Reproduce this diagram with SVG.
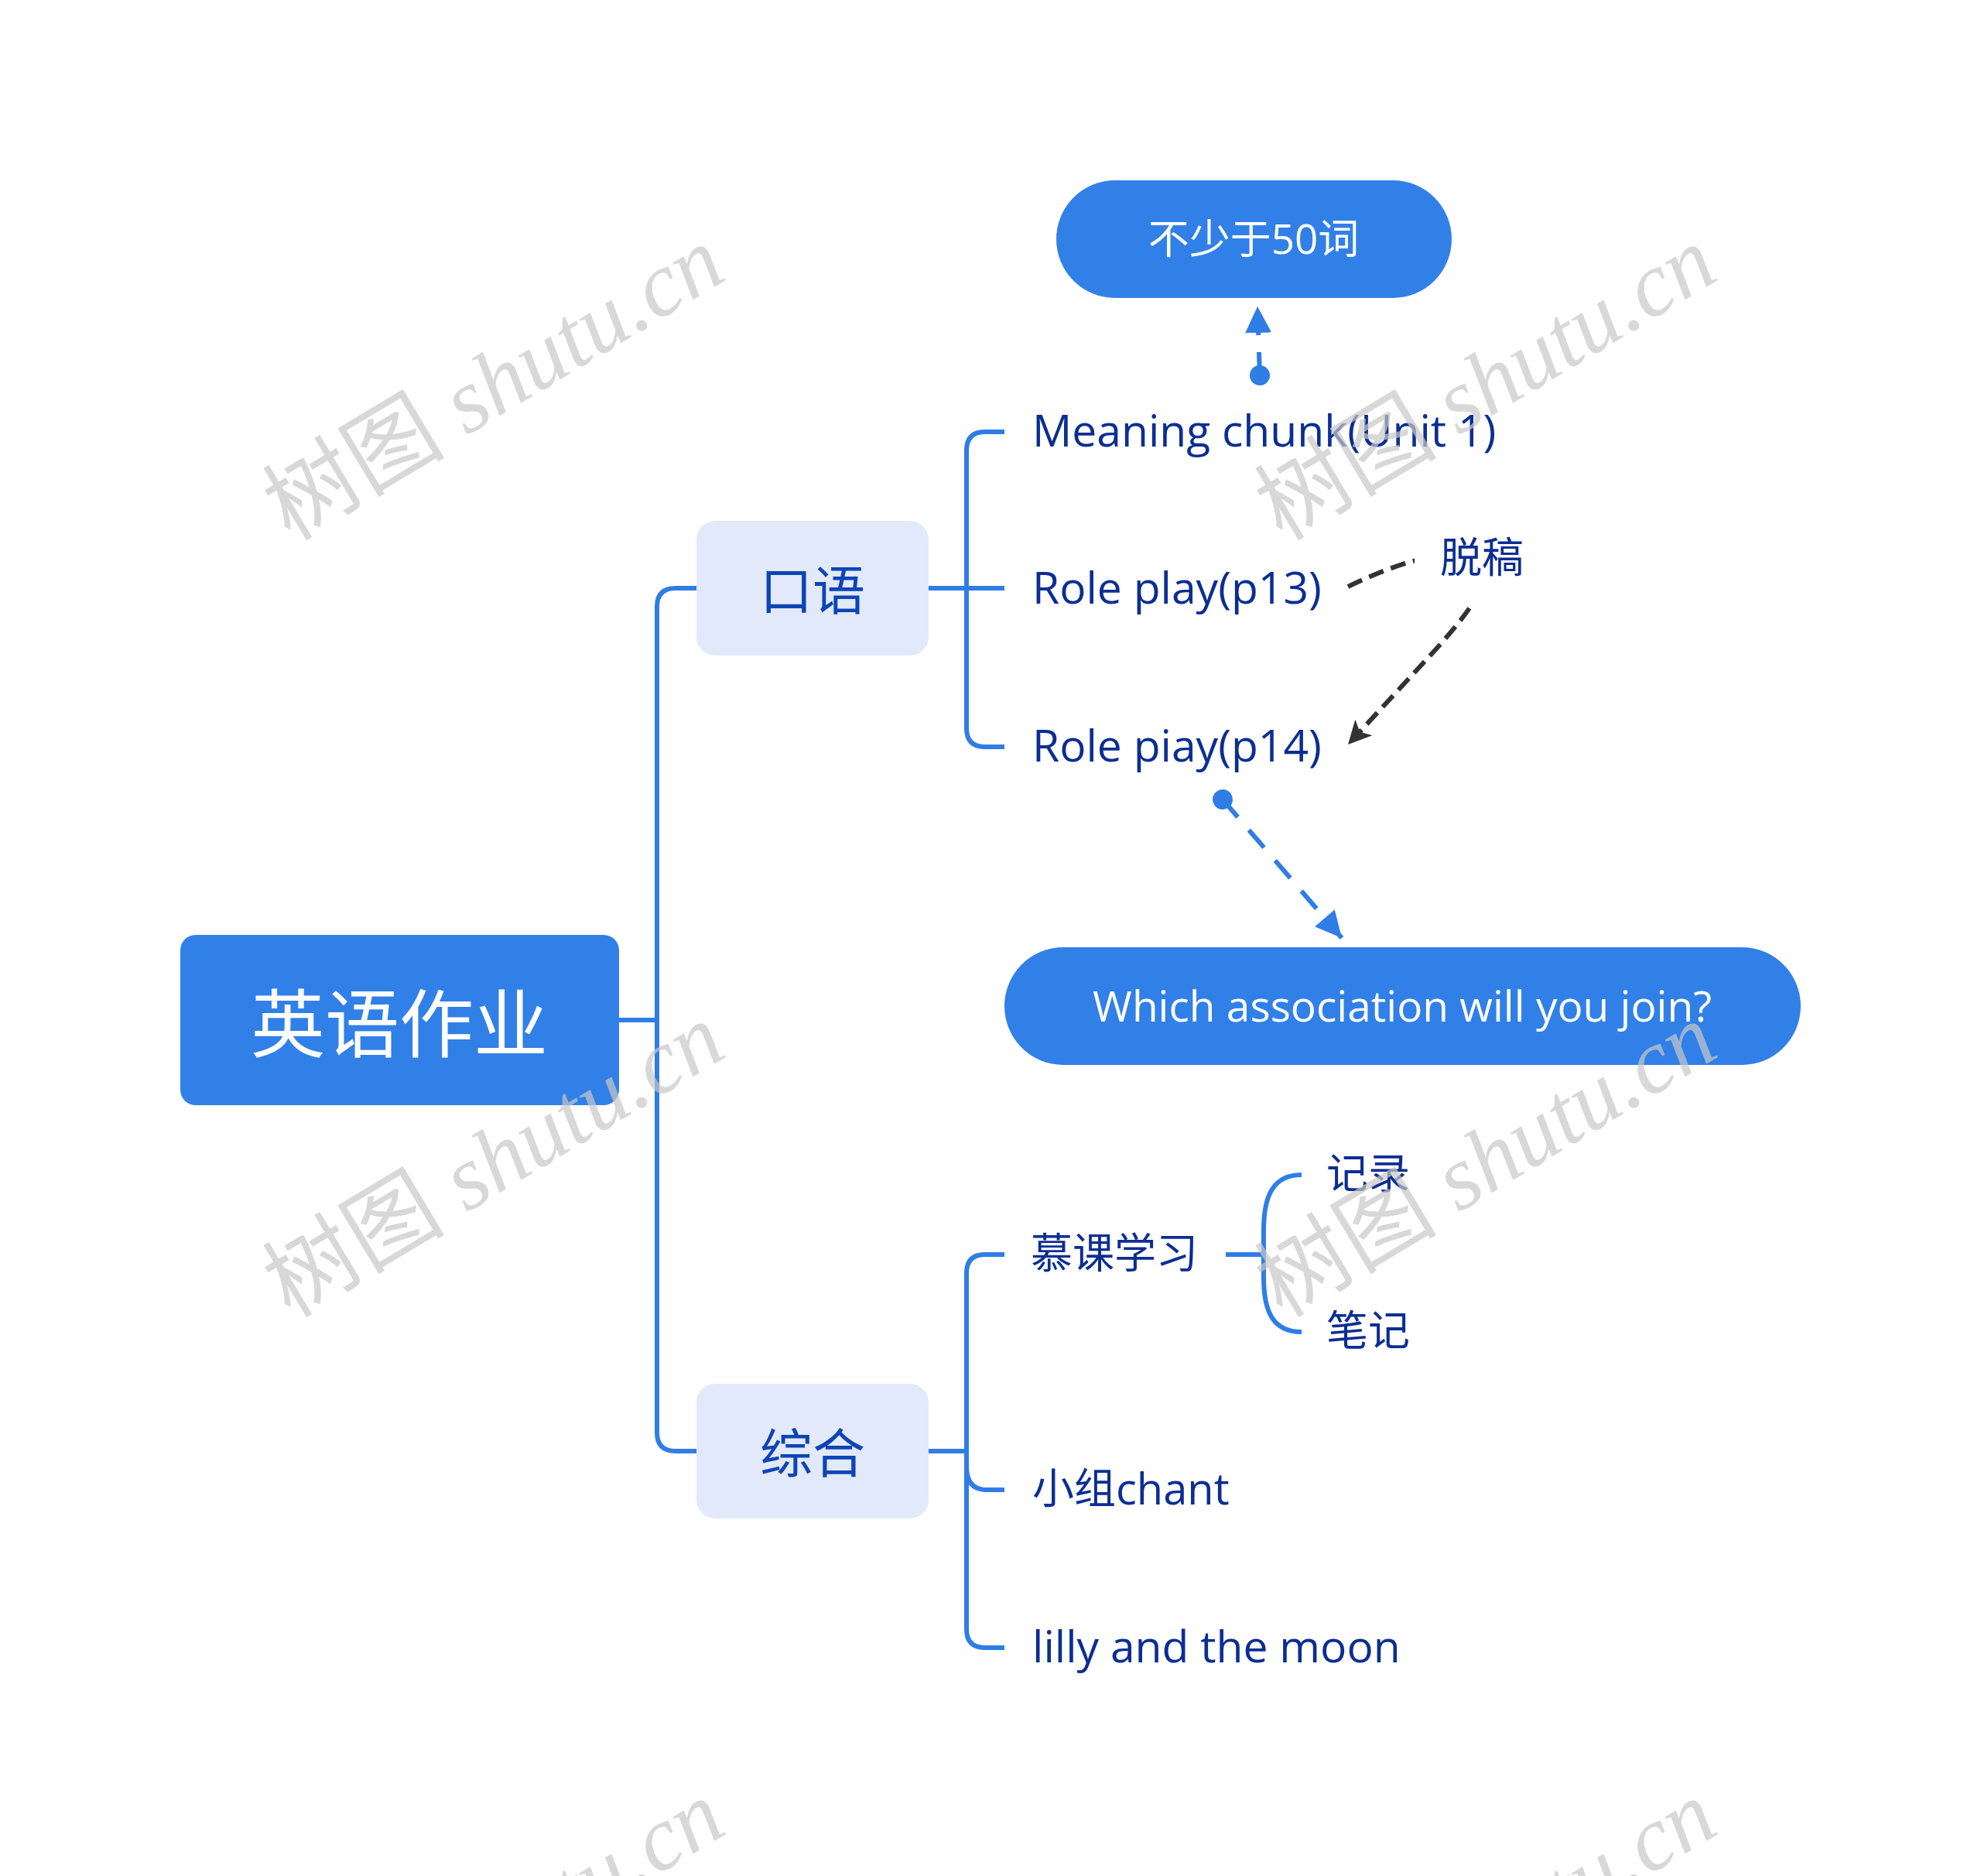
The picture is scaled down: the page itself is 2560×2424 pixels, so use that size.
<svg xmlns="http://www.w3.org/2000/svg" width="2560" height="2424" viewBox="0 0 2560 2424">
<style>
.root{fill:#3180E8}
.rootT{font-family:"Noto Sans CJK SC","Noto Sans",sans-serif;font-size:96px;fill:#fff}
.l1{fill:#E2E9FB}
.l1T{font-family:"Noto Sans CJK SC","Noto Sans",sans-serif;font-size:68px;fill:#0E44B5}
.leafT{font-family:"Open Sans","Noto Sans CJK SC",sans-serif;font-size:54px;fill:#0C2E92}
.lat{font-size:57px}
.pill{fill:#3180E8}
.pillT{font-family:"Open Sans","Noto Sans CJK SC",sans-serif;font-size:53px;fill:#fff}
.pillL{font-size:55px}
.br{fill:none;stroke:#2F7DE5;stroke-width:6}
.rel{fill:none;stroke:#2F7DE5;stroke-width:6;stroke-dasharray:30 22}
.relB{fill:none;stroke:#333;stroke-width:6;stroke-dasharray:20 10}
.wm{font-family:"Liberation Serif","Noto Sans CJK SC",serif;font-size:118px;fill:#c8c8c8;opacity:0.7}
</style>
<defs>
<marker id="aBlue" viewBox="0 0 10 10" refX="10" refY="5" markerWidth="34" markerHeight="34" markerUnits="userSpaceOnUse" orient="auto"><path d="M0,0 L10,5 L0,10 z" fill="#2F7DE5"/></marker>
<marker id="dBlue" viewBox="0 0 10 10" refX="5" refY="5" markerWidth="26" markerHeight="26" markerUnits="userSpaceOnUse" orient="auto"><circle cx="5" cy="5" r="5" fill="#2F7DE5"/></marker>
<marker id="aBlack" viewBox="0 0 10 10" refX="10" refY="5" markerWidth="32" markerHeight="30" markerUnits="userSpaceOnUse" orient="auto"><path d="M0,0 L10,5 L0,10 L2.5,5 z" fill="#333"/></marker>
</defs>
<rect width="2560" height="2424" fill="#fff"/>
<g id="connectors">
<path class="br" d="M800,1318 H849"/>
<path class="br" d="M900,760 H873 Q849,760 849,784 V1851 Q849,1875 873,1875 H900"/>
<path class="br" d="M1200,760 H1298"/>
<path class="br" d="M1298,558 H1273 Q1249,558 1249,582 V941 Q1249,965 1273,965 H1298"/>
<path class="br" d="M1200,1875 H1249"/>
<path class="br" d="M1298,1621 H1273 Q1249,1621 1249,1645 V2105 Q1249,2129 1273,2129 H1298"/>
<path class="br" d="M1249,1895 Q1249,1925 1275,1925 H1298"/>
<path class="br" d="M1584,1621 H1633"/>
<path class="br" d="M1682,1518 C1645,1518 1633,1545 1633,1590 V1650 C1633,1695 1645,1721 1682,1721"/>
<path class="rel" d="M1628,485 L1625,396" marker-start="url(#dBlue)" marker-end="url(#aBlue)"/>
<path class="rel" d="M1580,1033 L1734,1212" marker-start="url(#dBlue)" marker-end="url(#aBlue)"/>
<path class="relB" d="M1742,758 C1800,730 1870,705 1905,725 C1935,745 1900,790 1850,845 L1742,962" marker-end="url(#aBlack)"/>
</g>
<g id="root"><rect class="root" x="233" y="1208" width="567" height="220" rx="20"/><text class="rootT" x="516" y="1316" text-anchor="middle" dominant-baseline="central">英语作业</text></g>
<g id="kouyu"><rect class="l1" x="900" y="673" width="300" height="174" rx="24"/><text class="l1T" x="1050" y="758" text-anchor="middle" dominant-baseline="central">口语</text></g>
<g id="zonghe"><rect class="l1" x="900" y="1788" width="300" height="174" rx="24"/><text class="l1T" x="1050" y="1873" text-anchor="middle" dominant-baseline="central">综合</text></g>
<g id="meaning"><text class="leafT lat" x="1334" y="555" dominant-baseline="central">Meaning chunk(Unit 1)</text></g>
<g id="roleplay13"><text class="leafT lat" x="1334" y="758" dominant-baseline="central">Role play(p13)</text></g>
<g id="roleplay14"><text class="leafT lat" x="1334" y="962" dominant-baseline="central">Role piay(p14)</text></g>
<g id="mooc"><text class="leafT" x="1332" y="1618" dominant-baseline="central">慕课学习</text></g>
<g id="jilu"><text class="leafT" x="1714" y="1515" dominant-baseline="central">记录</text></g>
<g id="biji"><text class="leafT" x="1714" y="1718" dominant-baseline="central">笔记</text></g>
<g id="chant"><text class="leafT" x="1334" y="1922" dominant-baseline="central">小组<tspan font-size="56">chant</tspan></text></g>
<g id="lilly"><text class="leafT lat" x="1334" y="2126" dominant-baseline="central">lilly and the moon</text></g>
<g id="words50"><rect class="pill" x="1365" y="233" width="511" height="152" rx="76"/><text class="pillT" x="1620" y="307" text-anchor="middle" dominant-baseline="central">不少于50词</text></g>
<g id="association"><rect class="pill" x="1298" y="1224" width="1029" height="152" rx="76"/><text class="pillT pillL" x="1812" y="1298" text-anchor="middle" dominant-baseline="central">Which association will you join?</text></g>
<g id="tuogao"><rect x="1828" y="675" width="150" height="108" fill="#fff"/><text class="leafT" x="1861" y="719" dominant-baseline="central">脱稿</text></g>
<g id="watermarks">
<text class="wm" transform="translate(375,700) rotate(-31)">树图 <tspan font-style="italic">shutu.cn</tspan></text>
<text class="wm" transform="translate(1657,700) rotate(-31)">树图 <tspan font-style="italic">shutu.cn</tspan></text>
<text class="wm" transform="translate(375,1704) rotate(-31)">树图 <tspan font-style="italic">shutu.cn</tspan></text>
<text class="wm" transform="translate(1657,1704) rotate(-31)">树图 <tspan font-style="italic">shutu.cn</tspan></text>
<text class="wm" transform="translate(375,2708) rotate(-31)">树图 <tspan font-style="italic">shutu.cn</tspan></text>
<text class="wm" transform="translate(1657,2708) rotate(-31)">树图 <tspan font-style="italic">shutu.cn</tspan></text>
</g>
</svg>
